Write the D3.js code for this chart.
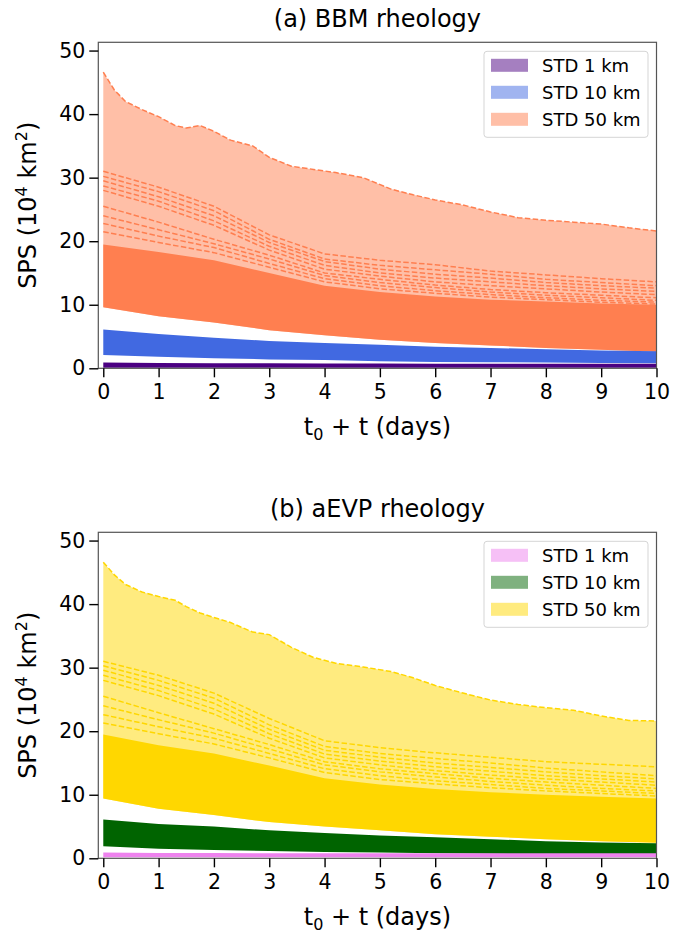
<!DOCTYPE html>
<html lang="en">
	<head>
		<meta charset="utf-8">
		<title>SPS ensembles</title>
		<script src="https://cdn.jsdelivr.net/npm/d3@7"></script>
		<style>
			body { margin: 0; background: #fff; }
			text { font-family: "DejaVu Sans", sans-serif; fill: #000; }
		</style>
	</head>
	<body>
		<script>
			// time grids (days)
			var days = [0, 1, 2, 3, 4, 5, 6, 7, 8, 9, 10];
			var tTop = [0, 0.2, 0.4, 0.7, 1, 1.3, 1.5, 1.75, 2, 2.3, 2.7, 3, 3.4, 3.8, 4.2, 4.7, 5.2, 5.6, 6, 6.5, 7, 7.5, 8, 8.5, 9, 9.5, 10];
			var xTicks = [0, 1, 2, 3, 4, 5, 6, 7, 8, 9, 10];
			var yTicks = [0, 10, 20, 30, 40, 50];
			var legendLabels = ["STD 1 km", "STD 10 km", "STD 50 km"];

			// (a) BBM
			var bbmTop50 = [46.6, 43.8, 42.0, 40.7, 39.6, 38.2, 37.8, 38.2, 37.3, 35.9, 35.0, 33.2, 31.8, 31.3, 30.8, 30.0, 28.2, 27.3, 26.5, 25.7, 24.6, 23.7, 23.3, 23.0, 22.7, 22.1, 21.6];
			var bbmLow50 = [9.6, 8.2, 7.2, 6.0, 5.2, 4.5, 4.0, 3.6, 3.2, 2.9, 2.6];
			var bbmCore50 = [19.5, 18.3, 17.0, 15.0, 13.0, 12.0, 11.3, 10.8, 10.5, 10.2, 10.0];
			var bbmMembers50 = [
				[31.0, 28.5, 25.5, 21.0, 18.0, 17.0, 16.3, 15.3, 14.7, 14.1, 13.6],
				[30.2, 27.8, 24.8, 20.3, 17.2, 16.2, 15.5, 14.8, 14.0, 13.5, 13.0],
				[29.5, 27.0, 24.0, 19.8, 16.8, 15.6, 14.8, 14.2, 13.5, 13.0, 12.6],
				[28.7, 26.3, 23.2, 19.2, 16.2, 15.0, 14.2, 13.6, 13.0, 12.5, 12.1],
				[28.0, 25.5, 22.5, 18.6, 15.6, 14.5, 13.6, 13.0, 12.5, 12.0, 11.6],
				[25.5, 23.0, 20.3, 17.8, 15.0, 14.0, 13.1, 12.4, 11.9, 11.5, 11.1],
				[24.0, 21.8, 19.6, 17.2, 14.6, 13.5, 12.7, 12.0, 11.5, 11.1, 10.7],
				[22.8, 20.8, 19.0, 16.5, 14.1, 13.0, 12.2, 11.6, 11.1, 10.7, 10.4],
				[21.5, 19.8, 18.2, 15.9, 13.6, 12.5, 11.8, 11.2, 10.8, 10.4, 10.1]
			];
			var bbmTop10 = [6.1, 5.4, 4.8, 4.3, 4.0, 3.7, 3.4, 3.2, 3.0, 2.8, 2.7];
			var bbmLow10 = [2.1, 1.8, 1.6, 1.4, 1.3, 1.1, 1.0, 0.95, 0.9, 0.85, 0.8];
			var bbmTop1 = [0.9, 0.85, 0.8, 0.8, 0.75, 0.75, 0.7, 0.7, 0.7, 0.7, 0.7];
			var bbmLow1 = [0.1, 0.1, 0.1, 0.1, 0.1, 0.1, 0.1, 0.1, 0.1, 0.1, 0.1];

			// (b) aEVP
			var evpTop50 = [46.6, 44.6, 43.1, 41.9, 41.2, 40.6, 39.6, 38.6, 37.9, 37.1, 35.6, 35.2, 33.2, 31.6, 30.7, 30.1, 29.4, 28.4, 27.2, 26.0, 24.9, 24.2, 23.7, 23.3, 22.4, 21.7, 21.6];
			var evpLow50 = [9.4, 7.8, 6.8, 5.7, 5.0, 4.4, 3.8, 3.4, 3.0, 2.7, 2.45];
			var evpCore50 = [19.5, 17.8, 16.5, 14.6, 12.6, 11.6, 10.9, 10.4, 10.0, 9.7, 9.4];
			var evpMembers50 = [
				[31.0, 28.8, 26.0, 22.0, 18.5, 17.4, 16.6, 15.9, 15.2, 14.8, 14.4],
				[30.3, 28.0, 25.2, 21.0, 17.6, 16.5, 15.7, 15.0, 14.2, 13.6, 13.0],
				[29.6, 27.2, 24.4, 20.3, 17.0, 15.9, 15.0, 14.3, 13.6, 13.0, 12.5],
				[28.8, 26.4, 23.5, 19.6, 16.4, 15.3, 14.4, 13.7, 13.0, 12.5, 12.0],
				[28.0, 25.6, 22.7, 18.9, 15.8, 14.7, 13.8, 13.1, 12.5, 12.0, 11.5],
				[25.5, 22.9, 20.4, 17.9, 15.2, 14.1, 13.3, 12.6, 12.0, 11.5, 11.0],
				[24.0, 21.8, 19.7, 17.2, 14.7, 13.6, 12.8, 12.1, 11.5, 11.0, 10.6],
				[22.6, 20.7, 18.9, 16.5, 14.1, 13.0, 12.2, 11.6, 11.0, 10.6, 10.2],
				[21.3, 19.6, 18.0, 15.8, 13.5, 12.4, 11.7, 11.1, 10.6, 10.2, 9.8]
			];
			var evpTop10 = [6.1, 5.4, 5.0, 4.4, 4.0, 3.6, 3.3, 3.0, 2.7, 2.5, 2.35];
			var evpLow10 = [1.9, 1.5, 1.3, 1.15, 1.0, 0.9, 0.8, 0.7, 0.6, 0.55, 0.5];
			var evpTop1 = [0.9, 0.85, 0.85, 0.8, 0.8, 0.8, 0.8, 0.8, 0.8, 0.8, 0.8];
			var evpLow1 = [0.15, 0.15, 0.15, 0.15, 0.15, 0.15, 0.15, 0.15, 0.15, 0.15, 0.15];

			var W = 674, H = 936;
			var svg = d3.select("body").append("svg")
				.attr("width", W)
				.attr("height", H);

			var panels = [
				{title: "(a) BBM rheology", top: 42.3, colors: ["#4B0082", "#4169E1", "#FF7F50"],
				 top50: bbmTop50, low50: bbmLow50, core50: bbmCore50, members: bbmMembers50,
				 top10: bbmTop10, low10: bbmLow10, top1: bbmTop1, low1: bbmLow1},
				{title: "(b) aEVP rheology", top: 532.3, colors: ["#EE82EE", "#006400", "#FFD700"],
				 top50: evpTop50, low50: evpLow50, core50: evpCore50, members: evpMembers50,
				 top10: evpTop10, low10: evpLow10, top1: evpTop1, low1: evpLow1}
			];

			var left = 98.3, right = 656.5, plotH = 326;

			panels.forEach(function(p) {
				var x = d3.scaleLinear().domain([-0.09, 10]).range([left, right]);
				var y = d3.scaleLinear().domain([0, 51.3]).range([p.top + plotH, p.top]);
				var g = svg.append("g");

				var clipId = "clip" + Math.round(p.top);
				g.append("clipPath").attr("id", clipId)
					.append("rect")
					.attr("x", left).attr("y", p.top)
					.attr("width", right - left).attr("height", plotH);
				var plot = g.append("g").attr("clip-path", "url(#" + clipId + ")");

				var line = d3.line()
					.x(function(d) { return x(d[0]); })
					.y(function(d) { return y(d[1]); });
				var band = d3.area()
					.x(function(d, i) { return x(days[i]); })
					.y0(function(d) { return y(d[0]); })
					.y1(function(d) { return y(d[1]); });

				function pairs(ts, vs) {
					return vs.map(function(v, i) { return [ts[i], v]; });
				}

				// 50 km envelope
				var c50 = p.colors[2];
				var topPts = pairs(tTop, p.top50);
				var lowPts = pairs(days, p.low50).reverse();
				plot.append("path")
					.attr("d", line(topPts.concat(lowPts)) + "Z")
					.attr("fill", c50)
					.attr("fill-opacity", 0.5);
				plot.append("path")
					.attr("d", band(p.low50.map(function(v, i) { return [v, p.core50[i]]; })))
					.attr("fill", c50);
				p.members.forEach(function(m) {
					plot.append("path")
						.attr("d", line(pairs(days, m)))
						.attr("fill", "none")
						.attr("stroke", c50)
						.attr("stroke-width", 1.5)
						.attr("stroke-dasharray", "5.5,2.4");
				});
				plot.append("path")
					.attr("d", line(topPts))
					.attr("fill", "none")
					.attr("stroke", c50)
					.attr("stroke-width", 1.5)
					.attr("stroke-dasharray", "5.5,2.4");

				// 10 km
				plot.append("path")
					.attr("d", band(p.low10.map(function(v, i) { return [v, p.top10[i]]; })))
					.attr("fill", p.colors[1]);
				// 1 km
				plot.append("path")
					.attr("d", band(p.low1.map(function(v, i) { return [v, p.top1[i]]; })))
					.attr("fill", p.colors[0]);

				// spines
				g.append("rect")
					.attr("x", left).attr("y", p.top)
					.attr("width", right - left).attr("height", plotH)
					.attr("fill", "none")
					.attr("stroke", "#555")
					.attr("stroke-width", 1.2);

				// axes
				var xAxis = g.append("g")
					.attr("transform", "translate(0," + (p.top + plotH) + ")")
					.call(d3.axisBottom(x).tickValues(xTicks).tickSize(9).tickPadding(7).tickFormat(d3.format("d")));
				var yAxis = g.append("g")
					.attr("transform", "translate(" + left + ",0)")
					.call(d3.axisLeft(y).tickValues(yTicks).tickSize(9).tickPadding(4).tickFormat(d3.format("d")));
				[xAxis, yAxis].forEach(function(a) {
					a.select(".domain").remove();
					a.selectAll(".tick line").attr("stroke", "#000").attr("stroke-width", 1.4);
					a.selectAll(".tick text").attr("font-size", 20.5).attr("font-family", "DejaVu Sans");
				});

				// title
				g.append("text")
					.attr("x", (left + right) / 2)
					.attr("y", p.top - 15)
					.attr("text-anchor", "middle")
					.attr("font-size", 24)
					.text(p.title);

				// x label
				var xl = g.append("text")
					.attr("x", (left + right) / 2)
					.attr("y", p.top + plotH + 67)
					.attr("text-anchor", "middle")
					.attr("font-size", 24);
				xl.append("tspan").text("t");
				xl.append("tspan").attr("font-size", 16).attr("dy", 5).text("0");
				xl.append("tspan").attr("dy", -5).text(" + t (days)");

				// y label
				var yl = g.append("text")
					.attr("transform", "translate(36," + (p.top + plotH / 2) + ") rotate(-90)")
					.attr("text-anchor", "middle")
					.attr("font-size", 24);
				yl.append("tspan").text("SPS (10");
				yl.append("tspan").attr("font-size", 16).attr("dy", -9).text("4");
				yl.append("tspan").attr("dy", 9).text(" km");
				yl.append("tspan").attr("font-size", 16).attr("dy", -9).text("2");
				yl.append("tspan").attr("dy", 9).text(")");

				// legend
				var lg = g.append("g").attr("transform", "translate(484," + (p.top + 9) + ")");
				lg.append("rect")
					.attr("width", 164).attr("height", 86)
					.attr("rx", 3)
					.attr("fill", "#fff").attr("fill-opacity", 0.8)
					.attr("stroke", "#d5d5d5");
				legendLabels.forEach(function(lab, i) {
					var cy = 14 + i * 27;
					lg.append("rect")
						.attr("x", 7).attr("y", cy - 6.5)
						.attr("width", 37).attr("height", 13)
						.attr("fill", p.colors[i]).attr("fill-opacity", 0.5);
					lg.append("text")
						.attr("x", 58).attr("y", cy + 6.5)
						.attr("font-size", 18)
						.text(lab);
				});
			});
		</script>
	</body>
</html>
